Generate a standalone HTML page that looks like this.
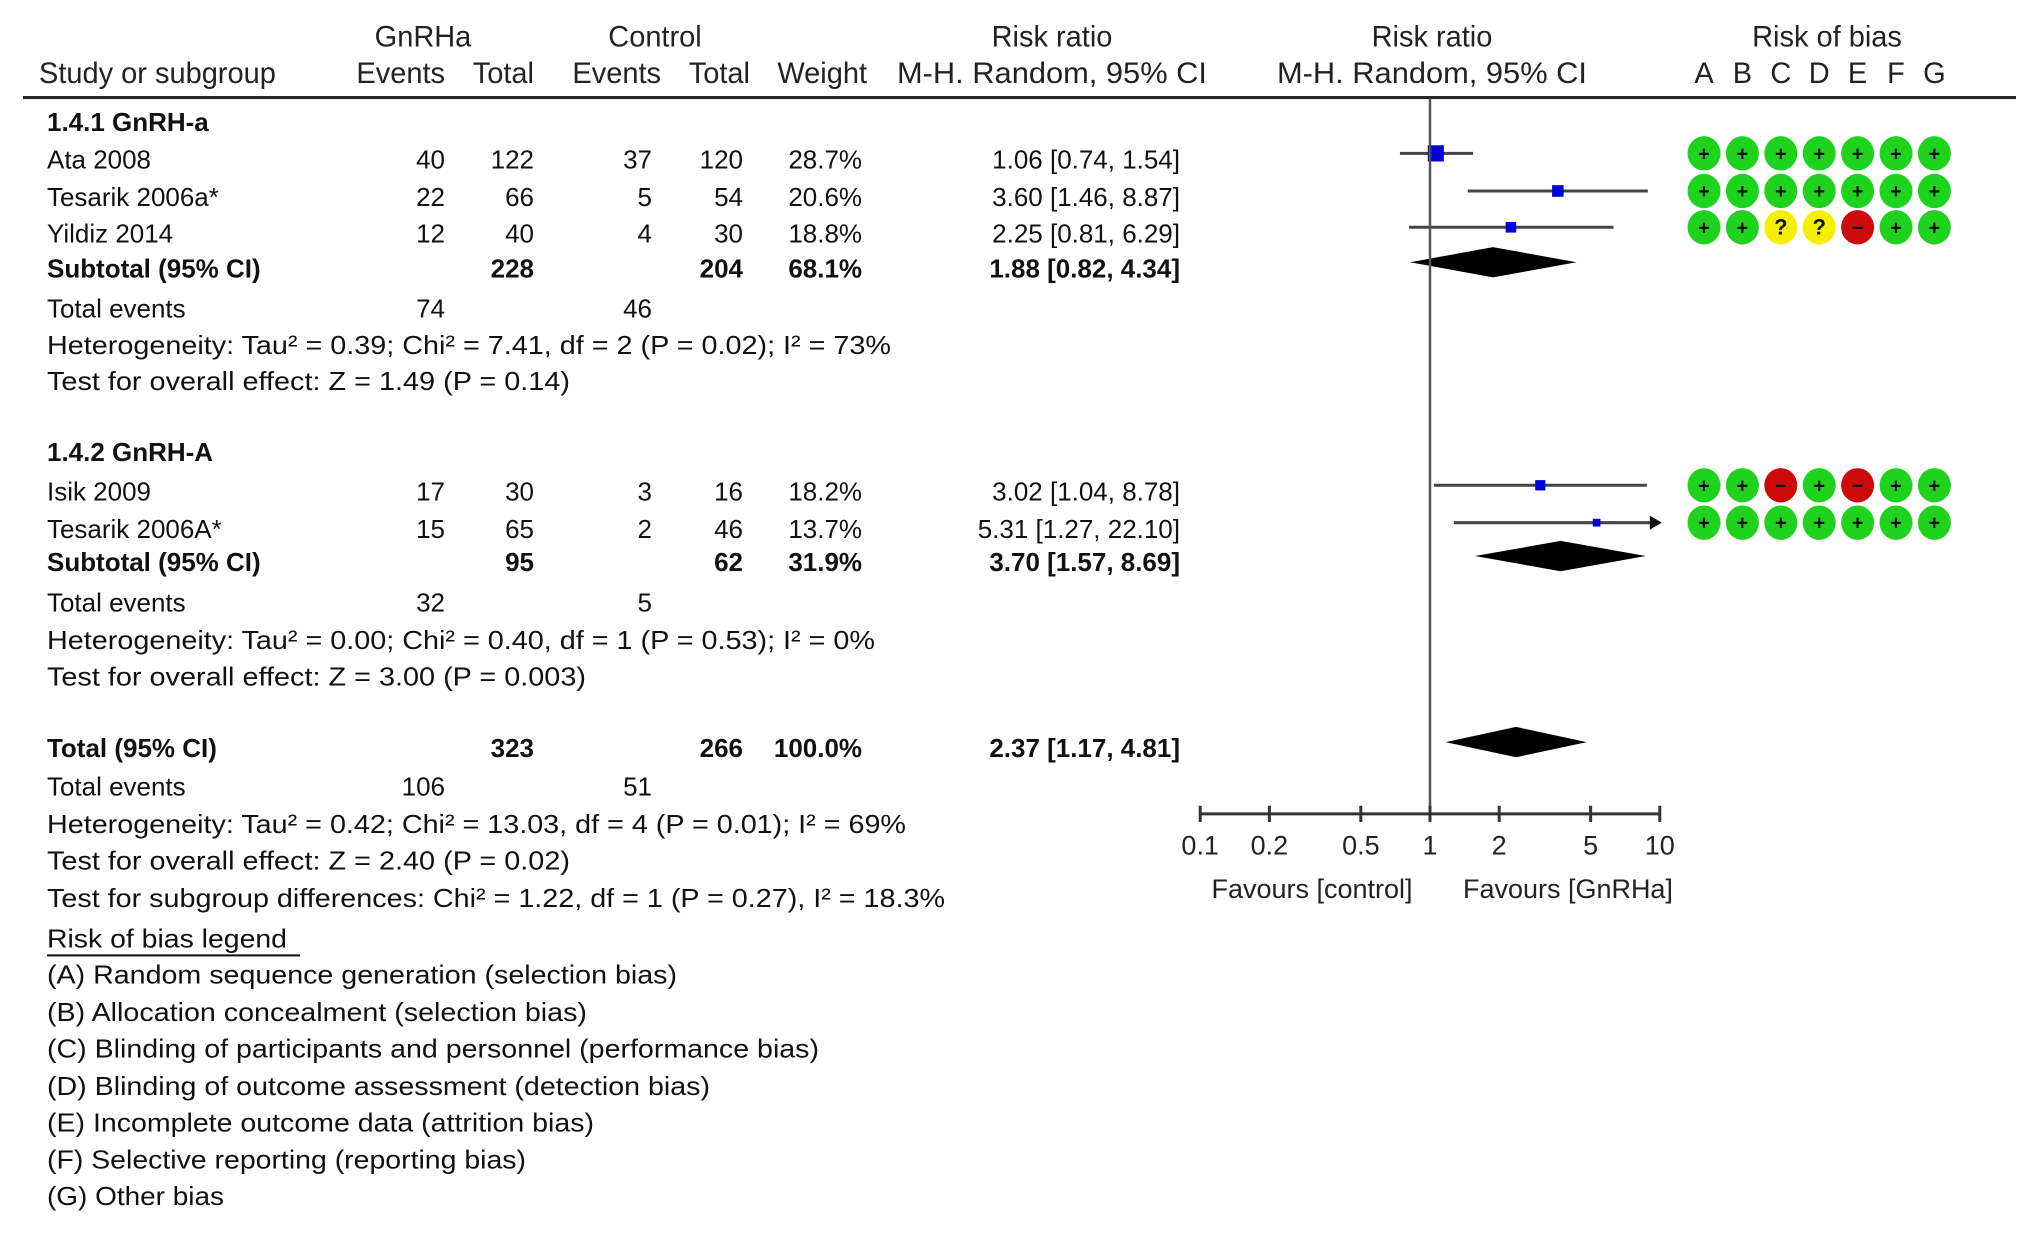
<!DOCTYPE html>
<html><head><meta charset="utf-8"><style>
html,body{margin:0;padding:0;background:#fff;}
svg{display:block;font-family:"Liberation Sans",Arial,sans-serif;}
</style></head><body>
<svg id="chart" width="2031" height="1237" viewBox="0 0 2031 1237" xmlns="http://www.w3.org/2000/svg">
<g id="root" transform="scale(1 1.011)">
<g id="hdr" font-size="29" fill="#222">
<text x="423" y="46" text-anchor="middle">GnRHa</text>
<text x="655" y="46" text-anchor="middle">Control</text>
<text x="1052" y="46" text-anchor="middle">Risk ratio</text>
<text x="1432" y="46" text-anchor="middle">Risk ratio</text>
<text x="1827" y="46" text-anchor="middle">Risk of bias</text>
<text x="39" y="82">Study or subgroup</text>
<text x="445" y="82" text-anchor="end">Events</text>
<text x="534" y="82" text-anchor="end">Total</text>
<text x="661" y="82" text-anchor="end">Events</text>
<text x="750" y="82" text-anchor="end">Total</text>
<text x="867" y="82" text-anchor="end">Weight</text>
<text x="1052" y="82" text-anchor="middle" textLength="310" lengthAdjust="spacingAndGlyphs">M-H. Random, 95% CI</text>
<text x="1432" y="82" text-anchor="middle" textLength="310" lengthAdjust="spacingAndGlyphs">M-H. Random, 95% CI</text>
</g>
<rect x="23" y="95" width="1993" height="3" fill="#222"/>
<g id="body" font-size="26" fill="#111"></g>
<g id="plot"></g>
</g>
</svg>
<script>
const studyNames=["Ata 2008","Tesarik  2006a*","Yildiz 2014","Isik 2009","Tesarik 2006A*"];
const studyGroup=[0,0,0,1,1];
const expEvents=[40,22,12,17,15];
const expTotal=[122,66,40,30,65];
const ctlEvents=[37,5,4,3,2];
const ctlTotal=[120,54,30,16,46];
const weights=[28.7,20.6,18.8,18.2,13.7];
const rr=[1.06,3.60,2.25,3.02,5.31];
const rrLo=[0.74,1.46,0.81,1.04,1.27];
const rrHi=[1.54,8.87,6.29,8.78,22.10];
const subRR=[1.88,3.70];
const subLo=[0.82,1.57];
const subHi=[4.34,8.69];
const totRR=[2.37];
const totLo=[1.17];
const totHi=[4.81];
const tickVals=[0.1,0.2,0.5,1,2,5,10];
const tickLabels=["0.1","0.2","0.5","1","2","5","10"];
const biasLetters=["A","B","C","D","E","F","G"];
const biasRatings=[["+","+","+","+","+","+","+"],["+","+","+","+","+","+","+"],["+","+","?","?","-","+","+"],["+","+","-","+","-","+","+"],["+","+","+","+","+","+","+"]];

const NS="http://www.w3.org/2000/svg";
const body=document.getElementById('body');
const plot=document.getElementById('plot');
const X=v=>1430+229.8*Math.log10(Math.min(Math.max(v,0.1),10));
const RX=1704;
function mk(parent,tag,attrs){const e=document.createElementNS(NS,tag);for(const k in attrs)e.setAttribute(k,attrs[k]);parent.appendChild(e);return e;}
function txt(x,y,s,opt){opt=opt||{};const e=mk(body,'text',{x:x,y:y+9});if(opt.anchor)e.setAttribute('text-anchor',opt.anchor);if(opt.bold)e.setAttribute('font-weight','bold');if(opt.len){e.setAttribute('textLength',opt.len);e.setAttribute('lengthAdjust','spacingAndGlyphs');}e.textContent=s;return e;}

const studyY=[157.7,194.9,230.8,486,523];
const subY=[265.4,556];
const totY=740;
let t;
t=txt(47,120.5,"1.4.1 GnRH-a",{bold:true});


t=txt(47,447,"1.4.2 GnRH-A",{bold:true});



for(let i=0;i<studyNames.length;i++){
  const y=studyY[i];
  t=txt(47,y,studyNames[i]);
  
  
  const vals=[[445,expEvents[i]],[534,expTotal[i]],[652,ctlEvents[i]],[743,ctlTotal[i]],[862,weights[i].toFixed(1)+"%"],[1180,rr[i].toFixed(2)+" ["+rrLo[i].toFixed(2)+", "+rrHi[i].toFixed(2)+"]"]];
  vals.forEach(v=>{t=txt(v[0],y,String(v[1]),{anchor:'end'});
    
    });
  const my=y-6;
  const ln=mk(plot,'line',{x1:X(rrLo[i]),x2:X(rrHi[i]),y1:my,y2:my,stroke:'#444','stroke-width':3});
  
  
  if(rrHi[i]>10){const a=mk(plot,'polygon',{points:(X(10)+2)+','+my+' '+(X(10)-10)+','+(my-7)+' '+(X(10)-10)+','+(my+7),fill:'#111'});
    
    }
  const s=weights[i]*0.56;
  const sq=mk(plot,'rect',{x:X(rr[i])-s/2,y:my-s/2,width:s,height:s,fill:'#0000dd'});
  
  
  for(let j=0;j<7;j++){
    const r=biasRatings[i][j];
    const cx=RX+j*38.4;
    const col=r=="+"?"#1ed21e":(r=="?"?"#f5f000":"#cc0a0a");
    const c=mk(plot,'ellipse',{cx:cx,cy:my,rx:16.5,ry:17,fill:col});
    
    
    const g=mk(plot,'text',{x:cx,y:my+7,'text-anchor':'middle','font-size':r=="?"?22:20,'font-weight':'bold',fill:'#111'});
    g.textContent=r=="-"?"−":r;
  }
}
biasLetters.forEach((L,j)=>{const e=mk(plot,'text',{x:RX+j*38.4,y:82,'text-anchor':'middle','font-size':29,fill:'#222'});e.textContent=L;
  
  });

function diamond(c,lo,hi,y){const p=mk(plot,'polygon',{points:X(lo)+','+y+' '+X(c)+','+(y-15)+' '+X(hi)+','+y+' '+X(c)+','+(y+15),fill:'#000'});return p;}
const subTot=[[228,204,"68.1%"],[95,62,"31.9%"]];
for(let k=0;k<2;k++){
  const y=subY[k];
  t=txt(47,y,"Subtotal (95% CI)",{bold:true});
  
  
  txt(534,y,String(subTot[k][0]),{anchor:'end',bold:true});
  txt(743,y,String(subTot[k][1]),{anchor:'end',bold:true});
  txt(862,y,subTot[k][2],{anchor:'end',bold:true});
  txt(1180,y,subRR[k].toFixed(2)+" ["+subLo[k].toFixed(2)+", "+subHi[k].toFixed(2)+"]",{anchor:'end',bold:true});
  const d=diamond(subRR[k],subLo[k],subHi[k],y-6);
  
  
}
t=txt(47,totY,"Total (95% CI)",{bold:true});


txt(534,totY,"323",{anchor:'end',bold:true});
txt(743,totY,"266",{anchor:'end',bold:true});
txt(862,totY,"100.0%",{anchor:'end',bold:true});
txt(1180,totY,totRR[0].toFixed(2)+" ["+totLo[0].toFixed(2)+", "+totHi[0].toFixed(2)+"]",{anchor:'end',bold:true});
const td=diamond(totRR[0],totLo[0],totHi[0],totY-6);



const lines=[
 [305,"Total events",null,["74","46"]],
 [341,"Heterogeneity: Tau² = 0.39; Chi² = 7.41, df = 2 (P = 0.02); I² = 73%",844],
 [377,"Test for overall effect: Z = 1.49 (P = 0.14)",523],
 [596,"Total events",null,["32","5"]],
 [633,"Heterogeneity: Tau² = 0.00; Chi² = 0.40, df = 1 (P = 0.53); I² = 0%",828],
 [669,"Test for overall effect: Z = 3.00 (P = 0.003)",539],
 [778,"Total events",null,["106","51"]],
 [815,"Heterogeneity: Tau² = 0.42; Chi² = 13.03, df = 4 (P = 0.01); I² = 69%",859],
 [851,"Test for overall effect: Z = 2.40 (P = 0.02)",523],
 [888,"Test for subgroup differences: Chi² = 1.22, df = 1 (P = 0.27), I² = 18.3%",898],
 [928,"Risk of bias legend",240],
 [964,"(A) Random sequence generation (selection bias)",630],
 [1001,"(B) Allocation concealment (selection bias)",540],
 [1037,"(C) Blinding of participants and personnel (performance bias)",772],
 [1074,"(D) Blinding of outcome assessment (detection bias)",663],
 [1110,"(E) Incomplete outcome data (attrition bias)",547],
 [1147,"(F) Selective reporting (reporting bias)",479],
 [1183,"(G) Other bias",177]];
lines.forEach(l=>{
  t=txt(47,l[0],l[1],l[2]?{len:l[2]}:{});
  
  
  if(l[3]){txt(445,l[0],l[3][0],{anchor:'end'});txt(652,l[0],l[3][1],{anchor:'end'});}
});
mk(body,'rect',{x:47,y:944,width:253,height:2,fill:'#111'});

const vl=mk(plot,'line',{x1:X(1),x2:X(1),y1:97,y2:805,stroke:'#555','stroke-width':2.5});


const ax=mk(plot,'line',{x1:X(0.1),x2:X(10),y1:805,y2:805,stroke:'#333','stroke-width':3});


tickVals.forEach((v,i)=>{
  mk(plot,'line',{x1:X(v),x2:X(v),y1:797,y2:813,stroke:'#333','stroke-width':3});
  const e=mk(plot,'text',{x:X(v),y:845,'text-anchor':'middle','font-size':27,fill:'#222'});
  e.textContent=tickLabels[i];
  
  
});
[[1312,"Favours [control]"],[1568,"Favours [GnRHa]"]].forEach(f=>{
  const e=mk(plot,'text',{x:f[0],y:888,'text-anchor':'middle','font-size':27,fill:'#222'});
  e.textContent=f[1];
  
  
});
</script>
</body></html>
